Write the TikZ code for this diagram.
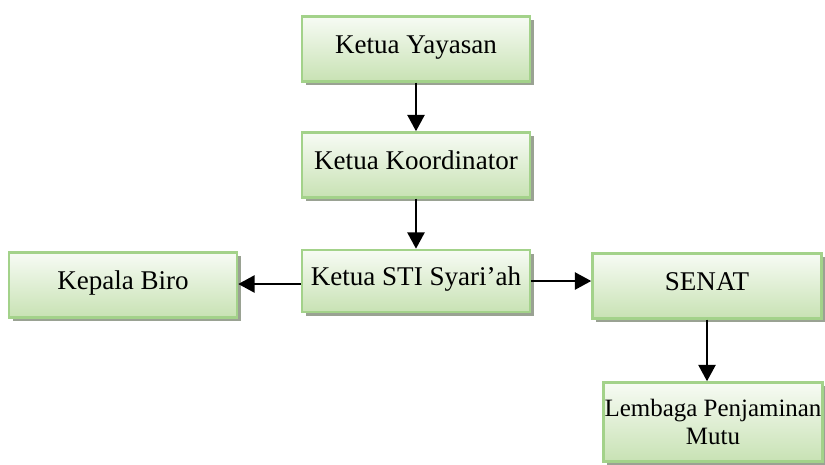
\documentclass[tikz,border=0pt]{standalone}
\usepackage{fontspec}
\setmainfont{Liberation Serif}
\usetikzlibrary{arrows.meta,shadows}
\definecolor{boxline}{HTML}{A3D28A}
\definecolor{boxtop}{HTML}{F7FBF4}
\definecolor{boxbot}{HTML}{C8E2B4}
\definecolor{boxshadow}{HTML}{9AA293}

\begin{document}
\begin{tikzpicture}[
x=0.02cm, y=-0.02cm,
unitbox/.style={draw=boxline, line width=1.4pt, top color=boxtop, bottom color=boxbot,
  minimum width=4.56cm, minimum height=1.3cm, inner sep=2pt, align=center,
  text height=1.6ex, text depth=0.45ex,
  font=\fontsize{15.4}{16}\selectfont,
  drop shadow={shadow xshift=0.075cm, shadow yshift=-0.075cm, opacity=1, fill=boxshadow}},
link/.style={line width=1.6pt, -{Triangle[length=0.33cm, width=0.34cm]}},
]
\useasboundingbox (0,0) rectangle (825,464);
\node[unitbox] (yayasan) at (416, 49) {Ketua Yayasan};
\node[unitbox] (koor) at (416, 165) {Ketua Koordinator};
\node[unitbox, minimum height=1.24cm] (sti) at (416, 281) {Ketua STI Syari’ah};
\node[unitbox] (biro) at (123, 285) {Kepala Biro};
\node[unitbox, minimum width=4.58cm] (senat) at (707, 286) {SENAT};
\node[unitbox, minimum width=4.38cm, minimum height=1.58cm, inner sep=0pt,
  text height=, text depth=, font=\fontsize{14.2}{15.8}\selectfont] (lpm) at (713, 422) {Lembaga Penjaminan\\Mutu};

\draw[link] (yayasan) -- (koor);
\draw[link] (koor) -- (sti);
\draw[link] (sti.west) ++(0,3) -- (biro.east |- {0,284});
\draw[link] (sti.east) -- (sti.east -| senat.west);
\draw[link] (senat.south) -- (senat.south |- lpm.north);
\end{tikzpicture}
\end{document}
